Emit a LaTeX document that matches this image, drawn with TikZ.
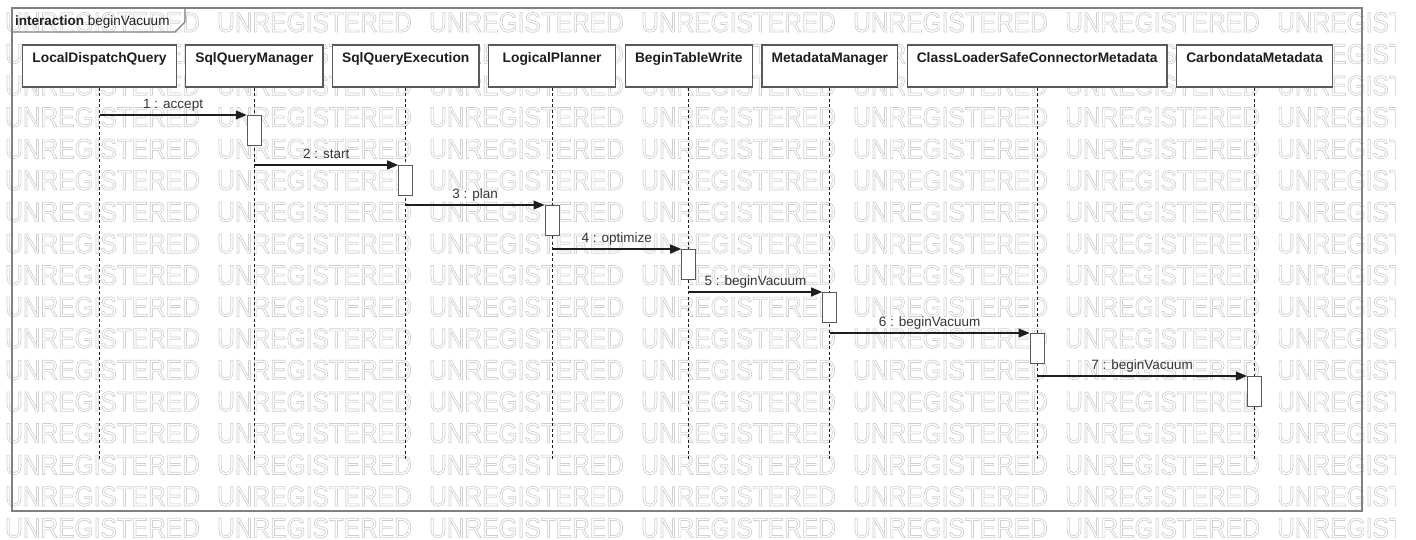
\documentclass[tikz,border=0pt]{standalone}
\usepackage{fontspec}
\setmainfont{Liberation Sans}
\newfontfamily\wmfont[FakeStretch=0.875]{Liberation Sans}
\usetikzlibrary{arrows.meta,positioning}
\definecolor{linegrey}{HTML}{595959}
\definecolor{framegrey}{HTML}{808080}
\definecolor{ink}{HTML}{1E1E1E}
\definecolor{wmgrey}{HTML}{CFCFCF}
\newcommand{\wmword}{\special{pdf:literal direct 1 Tr 0.7 w}UNREGISTERED\special{pdf:literal direct 0 Tr}}

\begin{document}
\begin{tikzpicture}[
  x=1pt, y=-1pt,
  node distance=8.5pt,
  head/.style={draw=linegrey, fill=white, line width=1.2pt, minimum width=127pt, inner xsep=9.5pt, inner ysep=8pt, text height=9.9pt, text depth=16.1pt, font=\fontsize{13.8}{16}\selectfont\bfseries, text=ink},
  act/.style={draw=linegrey, fill=white, line width=1.2pt, minimum width=14pt, minimum height=30pt, inner sep=0pt, anchor=north},
  life/.style={draw=ink, dash pattern=on 3pt off 2.5pt, line width=0.9pt},
  msg/.style={-{Triangle[length=11pt,width=9pt]}, ink, line width=1.1pt},
  lbl/.style={above, inner ysep=6pt, text depth=0pt, font=\fontsize{13.5}{16}\selectfont, text=ink!90},
  wm/.style={anchor=base west, inner sep=0pt, text=wmgrey, font=\wmfont\fontsize{28}{28}\selectfont}
]
\useasboundingbox (0,0) rectangle (1416,539);

% watermark
\begin{scope}
\clip (0,0) rectangle (1396,539);
\foreach \r in {0,...,16}{
  \foreach \c in {0,...,6}{
    \node[wm] (wm-\r-\c) at ({5+212*\c},{32+31.6*\r}) {\wmword};
  }
}
\end{scope}

% frame
\draw[framegrey, line width=1.3pt] (12,8) rectangle (1362,511);
\draw[framegrey, line width=1.1pt] (12,32) -- (175,32) -- (185,22) -- (185,8);
\node[anchor=base west, inner sep=0pt, font=\fontsize{13.5}{16}\selectfont, text=ink] (title) at (15,25) {\textbf{interaction} beginVacuum};

% lifeline heads
\node[head] (ldq) at (99.5,66) {LocalDispatchQuery};
\node[head, right=of ldq] (sqm) {SqlQueryManager};
\node[head, right=of sqm] (sqe) {SqlQueryExecution};
\node[head, right=of sqe] (lp) {LogicalPlanner};
\node[head, right=of lp] (btw) {BeginTableWrite};
\node[head, right=of btw] (mm) {MetadataManager};
\node[head, right=of mm] (cls) {ClassLoaderSafeConnectorMetadata};
\node[head, right=of cls] (cdm) {CarbondataMetadata};

\coordinate (bottom) at (0,459);
\draw[life] (ldq.south) -- (ldq.south |- bottom);
\draw[life] (sqm.south) -- (sqm.south |- bottom);
\draw[life] (sqe.south) -- (sqe.south |- bottom);
\draw[life] (lp.south) -- (lp.south |- bottom);
\draw[life] (btw.south) -- (btw.south |- bottom);
\draw[life] (mm.south) -- (mm.south |- bottom);
\draw[life] (cls.south) -- (cls.south |- bottom);
\draw[life] (cdm.south) -- (cdm.south |- bottom);

% activations
\node[act] (act1) at (sqm.south |- 0,115) {};
\node[act] (act2) at (sqe.south |- 0,165) {};
\node[act] (act3) at (lp.south |- 0,205) {};
\node[act] (act4) at (btw.south |- 0,249) {};
\node[act] (act5) at (mm.south |- 0,292) {};
\node[act] (act6) at (cls.south |- 0,333) {};
\node[act] (act7) at (cdm.south |- 0,376) {};

% messages
\draw[msg] (ldq |- act1.north) -- (act1.north west) node[lbl, midway] (lbl1) {1 : accept};
\draw[msg] (sqm |- act2.north) -- (act2.north west) node[lbl, midway] (lbl2) {2 : start};
\draw[msg] (sqe |- act3.north) -- (act3.north west) node[lbl, midway] (lbl3) {3 : plan};
\draw[msg] (lp |- act4.north) -- (act4.north west) node[lbl, midway] (lbl4) {4 : optimize};
\draw[msg] (btw |- act5.north) -- (act5.north west) node[lbl, midway] (lbl5) {5 : beginVacuum};
\draw[msg] (mm |- act6.north) -- (act6.north west) node[lbl, midway] (lbl6) {6 : beginVacuum};
\draw[msg] (cls |- act7.north) -- (act7.north west) node[lbl, midway] (lbl7) {7 : beginVacuum};
\end{tikzpicture}
\end{document}
